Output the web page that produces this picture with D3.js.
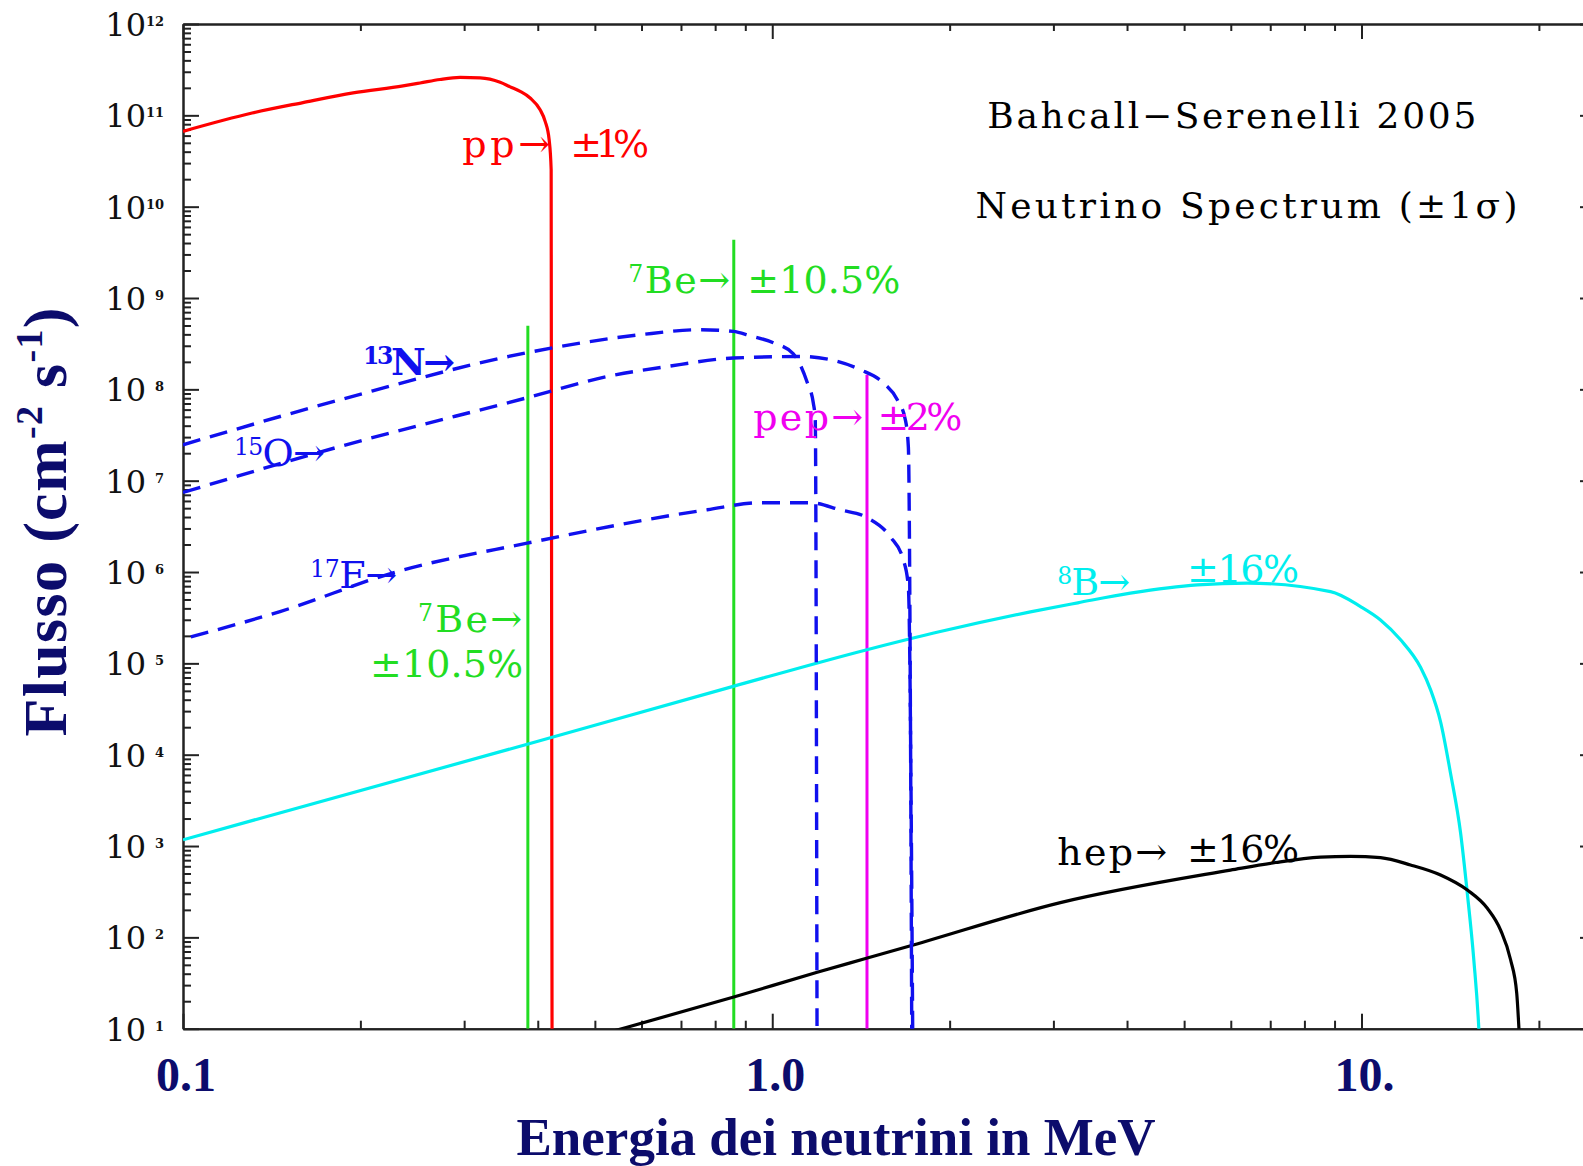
<!DOCTYPE html>
<html>
<head>
<meta charset="utf-8">
<script src="https://cdn.jsdelivr.net/npm/d3@7"></script>
<style>
  body { margin: 0; background: #fff; }
  svg { display: block; background: #fff; }
  .axis path, .axis line { stroke: #222; stroke-width: 2; fill: none; }
</style>
</head>
<body>
<svg id="chart" width="1583" height="1166"></svg>
<script>
// energies in MeV, fluxes in cm^-2 s^-1 (MeV^-1 for continua)
const xDomain = [0.1, 25];
const yDomain = [10, 1e12];
const xTickLabels = [[0.1, "0.1"], [1, "1.0"], [10, "10."]];
const yDecades = d3.range(1, 13);

const ppSpectrum = [[0.1, 6.68e10], [0.131, 1.06e11], [0.1598, 1.38e11], [0.1944, 1.76e11], [0.2363, 2.1e11],
  [0.2526, 2.26e11], [0.2731, 2.47e11], [0.2953, 2.6e11], [0.3193, 2.57e11], [0.3453, 2.30e11],
  [0.3591, 2.05e11], [0.3734, 1.83e11], [0.3882, 1.55e11], [0.4037, 1.15e11], [0.4117, 8.6e10],
  [0.4182, 5.4e10], [0.4215, 2.54e10], [0.4231, 1]];
const n13Spectrum = [[0.1, 2.47e7], [0.1848, 7.69e7], [0.3837, 2.52e8], [0.597, 3.96e8], [0.7547, 4.50e8],
  [0.8585, 4.31e8], [0.9176, 3.86e8], [1.004, 3.24e8], [1.086, 2.45e8], [1.147, 1.18e8],
  [1.174, 7.1e7], [1.183, 4.65e7], [1.192, 1]];
const o15Spectrum = [[0.1, 7.43e6], [0.1848, 2.37e7], [0.3837, 8.09e7], [0.5247, 1.38e8], [0.6633, 1.78e8],
  [0.8585, 2.20e8], [1.116, 2.29e8], [1.255, 2.11e8], [1.411, 1.64e8], [1.543, 1.18e8],
  [1.630, 7.69e7], [1.682, 4.65e7], [1.702, 2.35e7], [1.727, 1]];
const f17Spectrum = [[0.1, 1.85e5], [0.1461, 3.69e5], [0.2308, 1.01e6], [0.3837, 2.07e6], [0.7755, 4.80e6],
  [0.9541, 5.73e6], [1.160, 5.73e6], [1.304, 4.80e6], [1.450, 3.93e6], [1.586, 2.43e6],
  [1.669, 1.36e6], [1.702, 6.89e5], [1.735, 1]];
const b8Spectrum = [[0.1, 1.17e3], [0.3853, 1.31e4], [0.8585, 5.60e4], [1.448, 1.41e5], [1.928, 2.23e5],
  [2.742, 3.66e5], [3.3, 4.6e5], [4.053, 5.87e5], [5.268, 7.24e5], [6.405, 7.56e5], [8.860, 6.11e5],
  [9.961, 4.19e5], [10.77, 2.99e5], [11.65, 1.81e5], [12.60, 9.0e4], [13.10, 5.13e4],
  [13.62, 2.29e4], [14.16, 6.27e3], [14.73, 1.38e3], [15.12, 304], [15.51, 56.5],
  [15.82, 9.7], [15.95, 3]];
const hepSpectrum = [[0.5, 8.3], [0.5651, 10.3], [0.8604, 22.2], [1.192, 41.5], [1.445, 59], [1.729, 82],
  [3.083, 240], [5.992, 545], [7.15, 660], [8.52, 755], [9.58, 772], [10.77, 745], [12.11, 621],
  [13.62, 482], [15.12, 330], [16.35, 208], [17.22, 120], [17.91, 56.5], [18.34, 24.5],
  [18.50, 10], [18.6, 5]];
// monoenergetic lines: [energy, flux]
const be7Lines = [[0.3848, 4.98e8], [0.8604, 4.35e9]];
const pepLines = [[1.448, 1.445e8]];

const navy = "#0c0c6c";
const red = "#ff0000", green = "#22dd22", blue = "#1010ee", magenta = "#f000f0", cyan = "#00eeee";
const dashPattern = [18, 10];

const svg = d3.select("#chart");
const x = d3.scaleLog().domain(xDomain).range([183, 1596]);
const y = d3.scaleLog().domain(yDomain).range([1028.7, 24]);

svg.append("defs").append("clipPath").attr("id", "plotClip")
  .append("rect").attr("x", 183).attr("y", 24).attr("width", 1596 - 183).attr("height", 1028.7 - 24);

// ticks
function logTicks(lo, hi, decadesOnly) {
  let out = [];
  for (let e = Math.floor(Math.log10(lo)); e <= Math.ceil(Math.log10(hi)); e++) {
    for (let k = 1; k <= 9; k++) {
      const v = k * Math.pow(10, e);
      if (v < lo * 0.999 || v > hi * 1.001) continue;
      if ((k === 1) === decadesOnly) out.push(v);
    }
  }
  return out;
}
const xMajor = logTicks(0.1, 25, true), xMinor = logTicks(0.1, 25, false);
const yMajor = logTicks(10, 1e12, true), yMinor = logTicks(10, 1e12, false);

function axis(fn, scale, vals, size, tr) {
  svg.append("g").attr("class", "axis").attr("transform", tr)
    .call(fn(scale).tickValues(vals).tickSize(-size).tickSizeOuter(0).tickFormat(""));
}
axis(d3.axisBottom, x, xMajor, 15, "translate(0,1028.7)");
axis(d3.axisBottom, x, xMinor, 8, "translate(0,1028.7)");
axis(d3.axisTop, x, xMajor, 15, "translate(0,24)");
axis(d3.axisTop, x, xMinor, 7, "translate(0,24)");
axis(d3.axisLeft, y, yMajor, 16, "translate(183,0)");
axis(d3.axisLeft, y, yMinor, 8, "translate(183,0)");
axis(d3.axisRight, y, yMajor, 16, "translate(1596,0)");
axis(d3.axisRight, y, yMinor, 8, "translate(1596,0)");

// y tick labels 10^n
const yl = svg.append("g").attr("font-family", "DejaVu Serif").attr("fill", "#111");
yl.selectAll("text.base").data(yDecades).join("text").attr("class", "base")
  .attr("x", 146).attr("y", d => y(Math.pow(10, d)) + 12)
  .attr("text-anchor", "end").attr("font-size", 32).text("10");
yl.selectAll("text.exp").data(yDecades).join("text").attr("class", "exp")
  .attr("x", 164).attr("y", d => y(Math.pow(10, d)) + 2)
  .attr("text-anchor", "end").attr("font-size", 13).attr("font-weight", "bold").text(d => d);

// x tick labels
svg.append("g").selectAll("text").data(xTickLabels).join("text")
  .attr("x", d => x(d[0]) + 3).attr("y", 1091)
  .attr("text-anchor", "middle").attr("font-family", "Liberation Serif").attr("font-weight", "bold")
  .attr("font-size", 48).attr("fill", navy).text(d => d[1]);

// curves
const line = d3.line().x(d => x(d[0])).y(d => y(d[1])).curve(d3.curveMonotoneX);
const plot = svg.append("g").attr("clip-path", "url(#plotClip)");

const vlines = [[be7Lines, green], [pepLines, magenta]];
vlines.forEach(([data, col]) => {
  plot.selectAll(null).data(data).join("line")
    .attr("x1", d => x(d[0])).attr("x2", d => x(d[0]))
    .attr("y1", y(yDomain[0])).attr("y2", d => y(d[1]))
    .attr("stroke", col).attr("stroke-width", 3);
});

const curves = [
  ["pp", ppSpectrum, red, false],
  ["b8", b8Spectrum, cyan, false],
  ["hep", hepSpectrum, "#000", false],
  ["n13", n13Spectrum, blue, true],
  ["o15", o15Spectrum, blue, true],
  ["f17", f17Spectrum, blue, true]
];
const paths = {};
curves.forEach(([key, data, col, dashed]) => {
  paths[key] = plot.append("path").datum(data).attr("d", line)
    .attr("fill", "none").attr("stroke", col).attr("stroke-width", dashed ? 3.4 : 3.2)
    .attr("stroke-dasharray", dashed ? dashPattern.join(",") : null);
});

// the 15O and 17F drops share one vertical: shift 17F's dashes half a period so they fill each other's gaps
function lengthAtY(node, yTarget) {
  const L = node.getTotalLength();
  let lo = L - 400, hi = L;
  for (let i = 0; i < 40; i++) {
    const m = (lo + hi) / 2;
    if (node.getPointAtLength(m).y < yTarget) lo = m; else hi = m;
  }
  return lo;
}
const period = dashPattern[0] + dashPattern[1];
const l15 = lengthAtY(paths.o15.node(), 900), l17 = lengthAtY(paths.f17.node(), 900);
paths.f17.attr("stroke-dashoffset", (((l15 + period / 2 - l17) % period) + period) % period);

// annotations anchored in data coordinates
const notes = [
  { parts: [["Bahcall\u2212Serenelli 2005"]], E: 2.317, F: 7.33e10, color: "#000", w: 489, size: 36 },
  { parts: [["Neutrino Spectrum (\u00b11\u03c3)"]], E: 2.212, F: 7.6e9, color: "#000", w: 542, size: 36 },
  { parts: [["pp\u2192"]], E: 0.2977, F: 3.53e10, color: red, w: 88 },
  { parts: [["\u00b11%"]], E: 0.454, F: 3.53e10, color: red, w: 79 },
  { parts: [["7", 1], ["Be\u2192"]], E: 0.5694, F: 1.14e9, color: green, w: 102 },
  { parts: [["\u00b110.5%"]], E: 0.907, F: 1.14e9, color: green, w: 153 },
  { parts: [["pep\u2192"]], E: 0.928, F: 3.6e7, color: magenta, w: 110 },
  { parts: [["\u00b12%"]], E: 1.508, F: 3.6e7, color: magenta, w: 85 },
  { parts: [["13", 1], ["N\u2192"]], E: 0.2021, F: 1.45e8, color: blue, w: 92, bold: true },
  { parts: [["15", 1], ["O\u2192"]], E: 0.122, F: 1.46e7, color: blue, w: 91 },
  { parts: [["17", 1], ["F\u2192"]], E: 0.1643, F: 6.7e5, color: blue, w: 87 },
  { parts: [["7", 1], ["Be\u2192"]], E: 0.2506, F: 2.23e5, color: green, w: 104 },
  { parts: [["\u00b110.5%"]], E: 0.2077, F: 7.16e4, color: green, w: 153 },
  { parts: [["8", 1], ["B\u2192"]], E: 3.044, F: 5.62e5, color: cyan, w: 73 },
  { parts: [["\u00b116%"]], E: 5.058, F: 7.87e5, color: cyan, w: 112 },
  { parts: [["hep\u2192"]], E: 3.044, F: 621, color: "#000", w: 110 },
  { parts: [["\u00b116%"]], E: 5.058, F: 675, color: "#000", w: 112 }
];
notes.forEach(n => {
  const size = n.size || 38;
  const t = svg.append("text").attr("x", x(n.E)).attr("y", y(n.F))
    .attr("font-family", "DejaVu Serif").attr("font-size", size)
    .attr("font-weight", n.bold ? "bold" : "normal").attr("fill", n.color)
    .attr("textLength", n.w).attr("lengthAdjust", "spacing");
  let shift = 0;
  n.parts.forEach(([txt, sup]) => {
    const s = t.append("tspan").text(txt);
    if (sup) {
      s.attr("font-size", size * 0.62).attr("dy", -0.29 * size);
      shift = 0.29 * size;
    } else if (shift) {
      s.attr("dy", shift);
      shift = 0;
    }
  });
});

// axis titles
const yt = svg.append("text").attr("transform", "translate(66,522) rotate(-90)")
  .attr("text-anchor", "middle").attr("font-family", "Liberation Serif").attr("font-weight", "bold")
  .attr("font-size", 62).attr("fill", navy).attr("textLength", 429).attr("lengthAdjust", "spacing");
yt.append("tspan").text("Flusso (cm");
yt.append("tspan").attr("font-size", 38).attr("dy", -24).text("-2");
yt.append("tspan").attr("dy", 24).text(" s");
yt.append("tspan").attr("font-size", 38).attr("dy", -24).text("-1");
yt.append("tspan").attr("dy", 24).text(")");

svg.append("text").attr("x", 836).attr("y", 1155).attr("text-anchor", "middle")
  .attr("font-family", "Liberation Serif").attr("font-weight", "bold").attr("font-size", 53)
  .attr("fill", navy).attr("textLength", 639).attr("lengthAdjust", "spacing")
  .text("Energia dei neutrini in MeV");
</script>
</body>
</html>
